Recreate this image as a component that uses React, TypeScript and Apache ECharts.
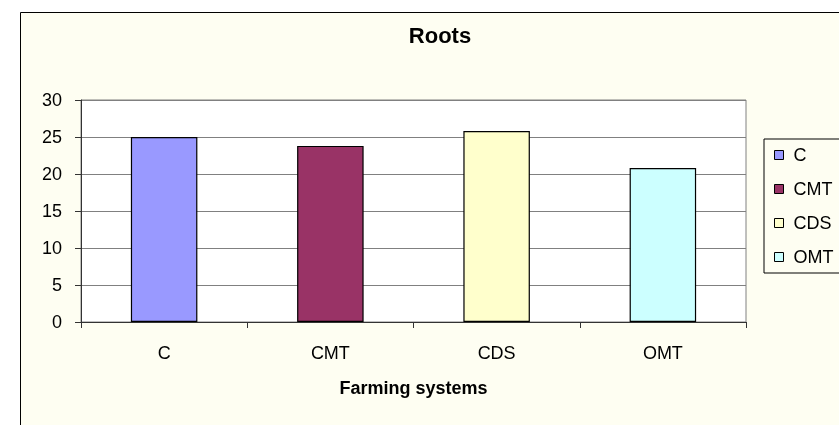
import React, { useEffect, useRef } from "react";
import * as echarts from "echarts";

const categories = ["C", "CMT", "CDS", "OMT"];
const seriesNames = ["C", "CMT", "CDS", "OMT"];
const values = [25, 23.8, 25.8, 20.8];
const colors = ["#9999FF", "#993366", "#FFFFCC", "#CCFFFF"];
const yTicks = { min: 0, max: 30, interval: 5 };

export default function App() {
  const ref = useRef<HTMLDivElement>(null);
  useEffect(() => {
    if (!ref.current) return;
    const chart = echarts.init(ref.current, undefined, { renderer: "svg" });
    const font = "'Liberation Sans', Arial, sans-serif";
    const series = seriesNames.map((name, i) => ({
      name,
      type: "bar",
      stack: "all",
      barWidth: "40%",
      data: categories.map((_, j) => (j === i ? values[i] : "-")),
      itemStyle: { color: colors[i], borderColor: "#000", borderWidth: 1.2 },
    }));
    chart.setOption({
      animation: false,
      textStyle: { fontFamily: font },
      graphic: [
        {
          type: "rect",
          z: -10,
          silent: true,
          shape: { x: 20.5, y: 12.5, width: 900, height: 500 },
          style: { fill: "#FEFEF2", stroke: "#000", lineWidth: 1 },
        },
      ],
      title: {
        text: "Roots",
        left: 435,
        top: 19,
        textAlign: "center",
        textStyle: { fontSize: 22, fontWeight: "bold", color: "#000", fontFamily: font },
      },
      legend: {
        orient: "vertical",
        left: 764,
        top: 139,
        data: seriesNames,
        itemWidth: 9,
        itemHeight: 9,
        itemGap: 16,
        icon: "rect",
        padding: [7, 10, 7, 10],
        borderColor: "#000",
        borderWidth: 1,
        backgroundColor: "transparent",
        itemStyle: { borderColor: "#000", borderWidth: 1 },
        textStyle: { fontSize: 18, color: "#000", fontFamily: font, padding: [0, 0, 0, 5] },
      },
      grid: {
        left: 81,
        top: 100,
        right: 93,
        bottom: 103,
        show: true,
        backgroundColor: "#FFFFFF",
        borderColor: "#808080",
        borderWidth: 1,
      },
      xAxis: {
        type: "category",
        data: categories,
        name: "Farming systems",
        nameLocation: "middle",
        nameGap: 57,
        nameTextStyle: { fontSize: 18, fontWeight: "bold", color: "#000", fontFamily: font },
        axisLine: { lineStyle: { color: "#333", width: 1 } },
        axisTick: { show: true, length: 6, lineStyle: { color: "#333" } },
        axisLabel: { fontSize: 18, color: "#000", margin: 22, fontFamily: font },
      },
      yAxis: {
        type: "value",
        min: yTicks.min,
        max: yTicks.max,
        interval: yTicks.interval,
        axisLine: { show: true, lineStyle: { color: "#333", width: 1 } },
        axisTick: { show: true, length: 6, lineStyle: { color: "#333" } },
        axisLabel: { fontSize: 18, color: "#000", margin: 19, fontFamily: font },
        splitLine: { show: true, lineStyle: { color: "#808080", width: 1 } },
      },
      series,
    });
    return () => chart.dispose();
  }, []);
  return (
    <div
      ref={ref}
      style={{ position: "fixed", left: 0, top: 0, width: 839, height: 425 }}
    />
  );
}
